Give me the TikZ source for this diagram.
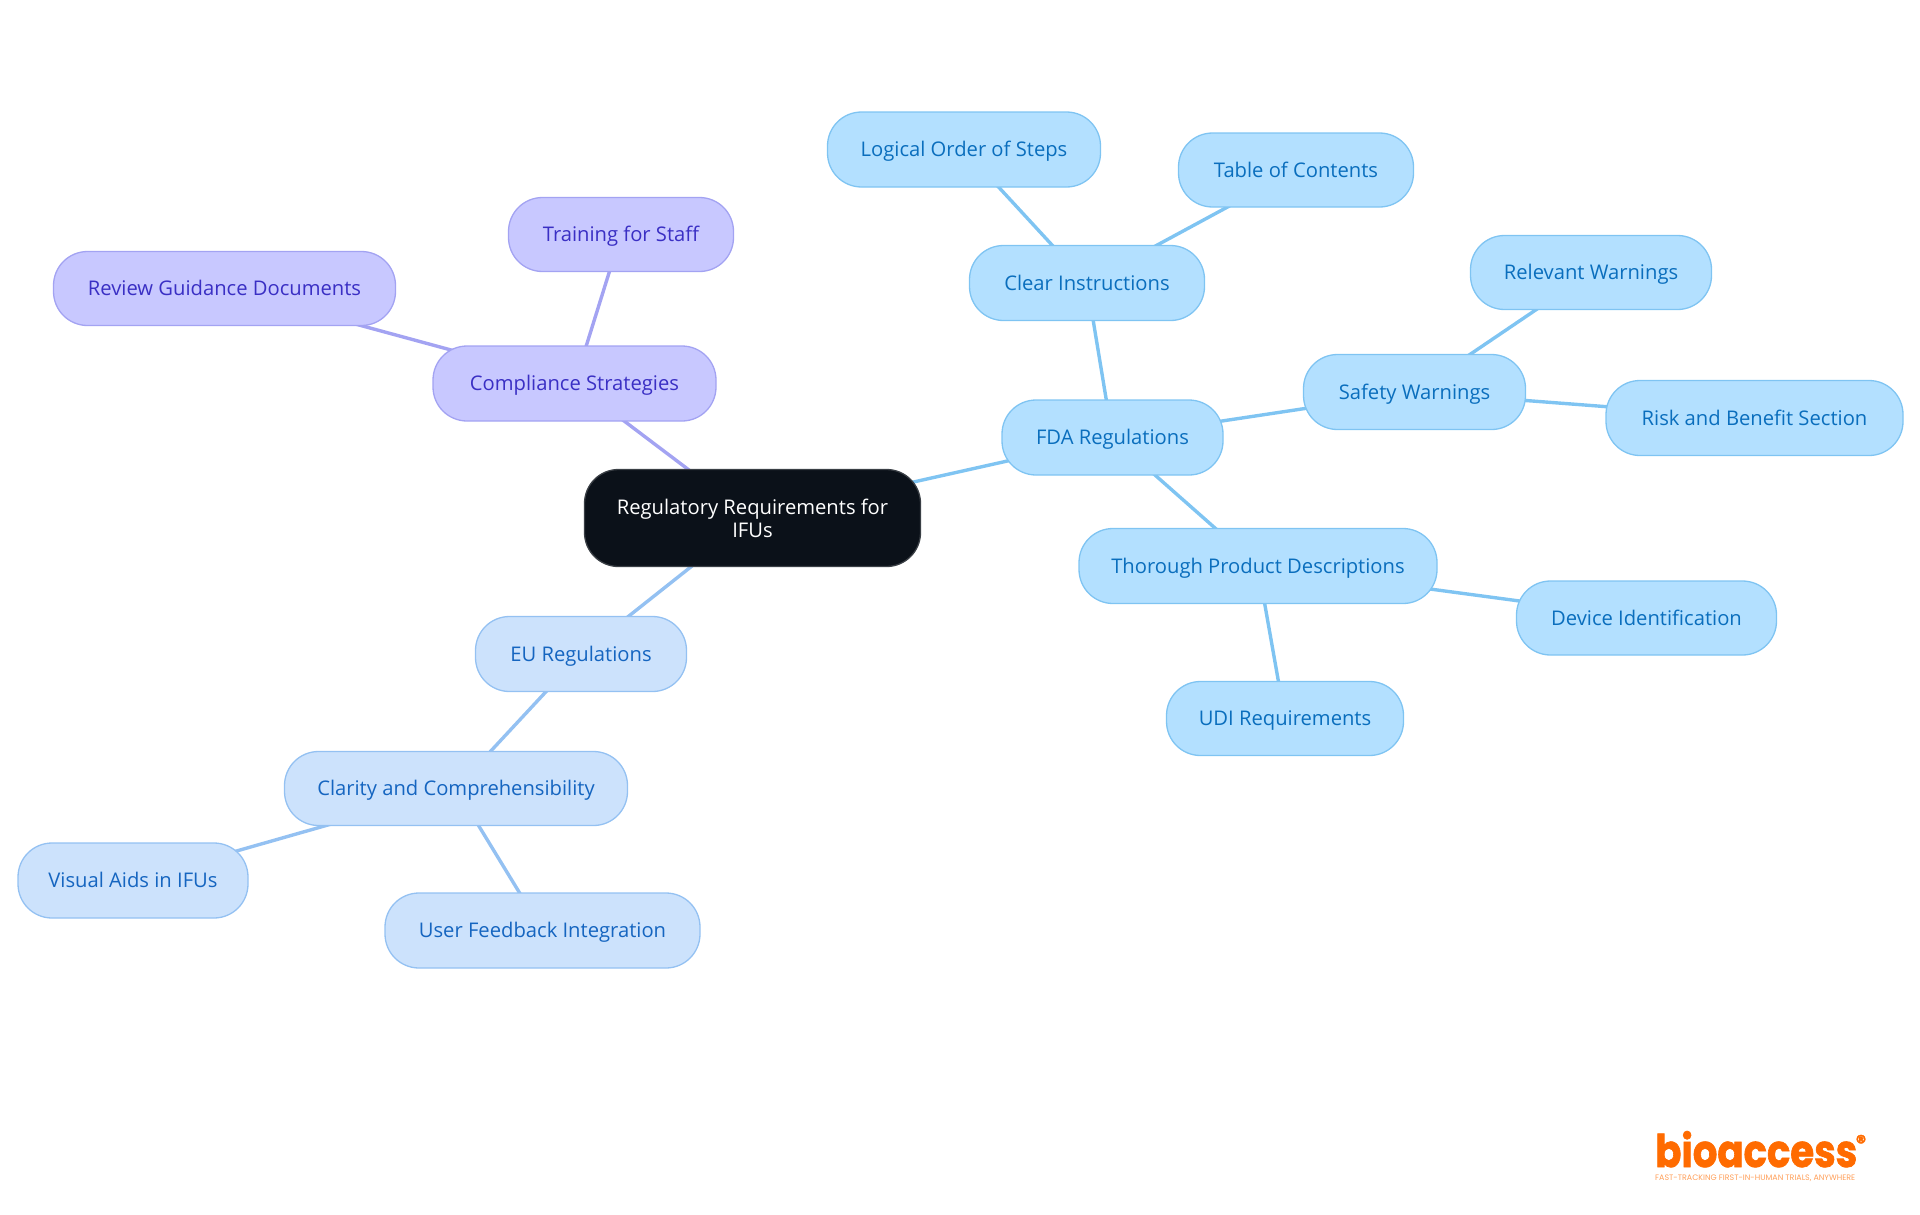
\documentclass[tikz,border=0pt]{standalone}
\usepackage{fontspec}
\usepackage{graphicx}
\setmainfont{Open Sans}
\newfontfamily\logofont{Poppins}[BoldFeatures={FakeBold=1.6}]
\usetikzlibrary{backgrounds}
\definecolor{rootfill}{HTML}{0B1119}
\definecolor{rootline}{HTML}{3A3F45}
\definecolor{skyfill}{HTML}{B3E0FF}
\definecolor{skyline}{HTML}{7FC4F2}
\definecolor{skytext}{HTML}{0A6EBD}
\definecolor{violetfill}{HTML}{C8C8FF}
\definecolor{violetline}{HTML}{A3A3F2}
\definecolor{violettext}{HTML}{3A2FC4}
\definecolor{bluefill}{HTML}{CCE2FC}
\definecolor{blueline}{HTML}{94C1F2}
\definecolor{bluetext}{HTML}{1565C0}
\definecolor{logoorange}{HTML}{FF6B00}
\tikzset{
  box/.style={rounded corners=34pt,line width=1.3pt,inner sep=0pt,align=center,
    font=\fontsize{20.2}{23}\selectfont,text height=17pt,text depth=3pt},
  rootbox/.style={box,fill=rootfill,draw=rootline,text=white},
  skybox/.style={box,fill=skyfill,draw=skyline,text=skytext},
  violetbox/.style={box,fill=violetfill,draw=violetline,text=violettext},
  bluebox/.style={box,fill=bluefill,draw=blueline,text=bluetext},
  skyedge/.style={draw=skyline,line width=3.4pt},
  violetedge/.style={draw=violetline,line width=3.4pt},
  blueedge/.style={draw=blueline,line width=3.4pt},
}
\begin{document}
\begin{tikzpicture}[x=1pt,y=-1pt]
\useasboundingbox (0,0) rectangle (1920,1215);
\node[rootbox,minimum width=336pt,minimum height=97pt,text height=,text depth=] (root) at (752.5,518) {Regulatory Requirements for\\IFUs};
\node[skybox,minimum width=221pt,minimum height=75pt] (fda) at (1112.5,437.5) {FDA Regulations};
\node[skybox,minimum width=235pt,minimum height=75pt] (clear) at (1087,283) {Clear Instructions};
\node[skybox,minimum width=273pt,minimum height=75pt] (logical) at (964,149.5) {Logical Order of Steps};
\node[skybox,minimum width=235pt,minimum height=74pt] (toc) at (1296,170) {Table of Contents};
\node[skybox,minimum width=222pt,minimum height=75pt] (safety) at (1414.5,392) {Safety Warnings};
\node[skybox,minimum width=241pt,minimum height=74pt] (relevant) at (1591,272.5) {Relevant Warnings};
\node[skybox,minimum width=297pt,minimum height=75pt] (risk) at (1754.5,418) {Risk and Benefit Section};
\node[skybox,minimum width=358pt,minimum height=75pt] (thorough) at (1258,566) {Thorough Product Descriptions};
\node[skybox,minimum width=260pt,minimum height=74pt] (device) at (1646.5,618) {Device Identification};
\node[skybox,minimum width=237pt,minimum height=74pt] (udi) at (1285,718.5) {UDI Requirements};
\node[violetbox,minimum width=283pt,minimum height=75pt] (compliance) at (574.5,383.5) {Compliance Strategies};
\node[violetbox,minimum width=225pt,minimum height=74pt] (training) at (621,234.5) {Training for Staff};
\node[violetbox,minimum width=342pt,minimum height=74pt] (review) at (224.5,288.5) {Review Guidance Documents};
\node[bluebox,minimum width=211pt,minimum height=75pt] (eu) at (581,654) {EU Regulations};
\node[bluebox,minimum width=343pt,minimum height=74pt] (clarity) at (456,788.5) {Clarity and Comprehensibility};
\node[bluebox,minimum width=230pt,minimum height=75pt] (visual) at (133,880.5) {Visual Aids in IFUs};
\node[bluebox,minimum width=315pt,minimum height=75pt] (user) at (542.5,930.5) {User Feedback Integration};
\begin{scope}[on background layer]
\draw[skyedge] (root.center) -- (fda.center);
\draw[skyedge] (fda.center) -- (clear.center);
\draw[skyedge] (clear.center) -- (logical.center);
\draw[skyedge] (clear.center) -- (toc.center);
\draw[skyedge] (fda.center) -- (safety.center);
\draw[skyedge] (safety.center) -- (relevant.center);
\draw[skyedge] (safety.center) -- (risk.center);
\draw[skyedge] (fda.center) -- (thorough.center);
\draw[skyedge] (thorough.center) -- (device.center);
\draw[skyedge] (thorough.center) -- (udi.center);
\draw[violetedge] (root.center) -- (compliance.center);
\draw[violetedge] (compliance.center) -- (training.center);
\draw[violetedge] (compliance.center) -- (review.center);
\draw[blueedge] (root.center) -- (eu.center);
\draw[blueedge] (eu.center) -- (clarity.center);
\draw[blueedge] (clarity.center) -- (visual.center);
\draw[blueedge] (clarity.center) -- (user.center);
\end{scope}
\node[anchor=base west,inner sep=0pt,text=logoorange] (logo) at (1655,1167) {\resizebox{202pt}{36pt}{\logofont\bfseries bioaccess}};
\node[anchor=center,inner sep=0pt,text=logoorange,font=\logofont\bfseries\fontsize{20}{20}\selectfont] (reg) at (1861,1142) {®};
\node[anchor=base west,inner sep=0pt,text=logoorange!65] (tag) at (1655,1180) {\resizebox{200pt}{!}{\logofont\fontsize{7}{8}\selectfont FAST-TRACKING FIRST-IN-HUMAN TRIALS, ANYWHERE}};
\end{tikzpicture}
\end{document}
